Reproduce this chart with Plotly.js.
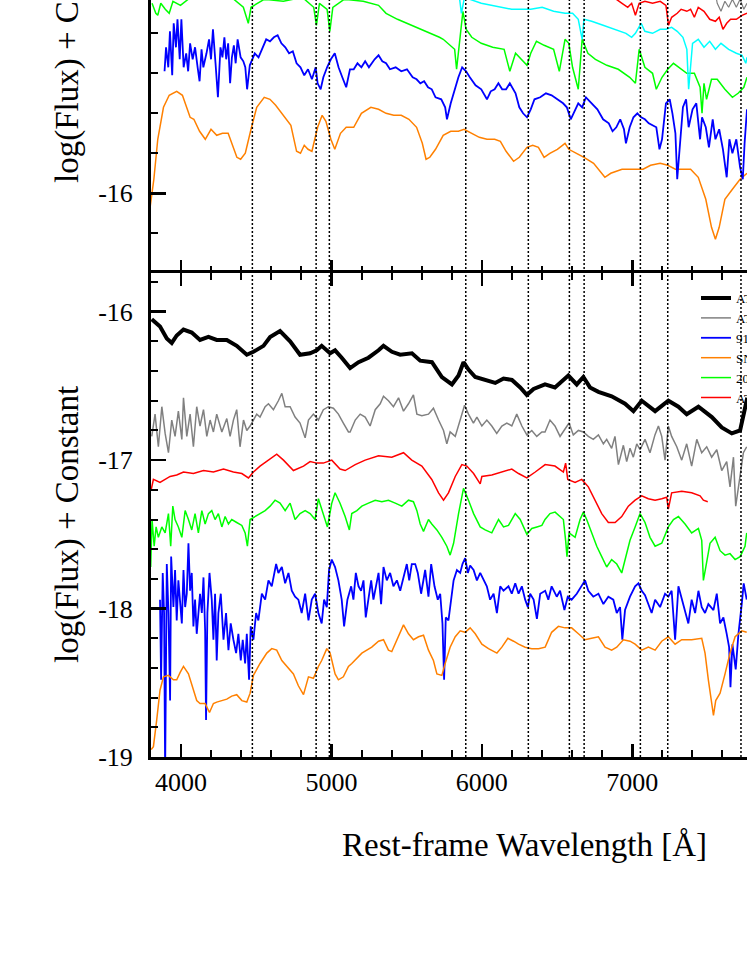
<!DOCTYPE html>
<html>
<head>
<meta charset="utf-8">
<script src="https://cdn.plot.ly/plotly-3.0.1.min.js"></script>
<style>html,body{margin:0;padding:0;background:#fff;}#chart{width:747px;height:967px;}</style>
</head>
<body>
<div id="chart"></div>
<script>
// ---------- Bottom panel spectra (log flux + constant vs rest-frame wavelength) ----------
const blackWl = [3805,3860,3905,3938,3971,4016,4071,4126,4182,4237,4304,4370,4437,4481,4548,4592,4658,4725,4791,4858,4902,4935,4991,5024,5068,5124,5180,5246,5313,5346,5402,5457,5535,5590,5668,5734,5801,5845,5878,5911,5956,6022,6089,6144,6200,6255,6299,6344,6420,6486,6542,6575,6631,6675,6719,6775,6863,6952,7008,7063,7152,7240,7307,7362,7440,7529,7595,7662,7717,7750,7765];
const blackFlux = [-16.05,-16.10,-16.18,-16.21,-16.16,-16.12,-16.14,-16.19,-16.17,-16.19,-16.19,-16.23,-16.29,-16.27,-16.23,-16.17,-16.13,-16.20,-16.29,-16.28,-16.26,-16.23,-16.28,-16.26,-16.31,-16.38,-16.34,-16.31,-16.26,-16.23,-16.27,-16.29,-16.28,-16.33,-16.34,-16.44,-16.49,-16.43,-16.34,-16.39,-16.44,-16.46,-16.48,-16.45,-16.46,-16.51,-16.56,-16.52,-16.49,-16.51,-16.46,-16.43,-16.49,-16.44,-16.51,-16.54,-16.57,-16.62,-16.67,-16.60,-16.67,-16.60,-16.64,-16.69,-16.64,-16.71,-16.78,-16.82,-16.80,-16.64,-16.58];

const grayWl = [3805,3827,3849,3872,3894,3916,3938,3960,3982,4005,4016,4038,4060,4082,4104,4126,4149,4171,4193,4215,4237,4271,4304,4326,4348,4370,4392,4415,4437,4459,4481,4503,4525,4559,4581,4614,4647,4670,4692,4725,4758,4791,4825,4847,4880,4913,4946,4980,5013,5046,5079,5113,
  5124,5158,5191,5224,5257,5291,5324,5346,5379,5412,5446,5479,5512,5545,5568,5601,5645,5678,5712,5745,5767,5789,5823,5856,5885,5911,5944,5967,6000,6033,6066,6099,6133,6166,6199,6232,6266,6299,6332,6365,6399,
  6420,6453,6486,6520,6553,6580,6608,6642,6675,6708,6741,6775,6808,6830,6863,6885,6908,6941,6963,6985,7007,7030,7052,7085,7118,7151,7174,7196,7218,7240,7262,7296,7329,7362,7395,7429,7462,7495,7528,7562,7595,7628,7650,7673,7688,7717,7739,7761];
const grayFlux = [-16.84,-16.69,-16.91,-16.64,-16.82,-16.95,-16.73,-16.84,-16.67,-16.86,-16.58,-16.84,-16.69,-16.91,-16.64,-16.77,-16.66,-16.84,-16.73,-16.81,-16.69,-16.81,-16.72,-16.84,-16.73,-16.66,-16.91,-16.73,-16.80,-16.77,-16.73,-16.69,-16.71,-16.64,-16.62,-16.66,-16.60,-16.55,-16.64,-16.64,-16.71,-16.75,-16.85,-16.73,-16.69,-16.73,-16.66,-16.64,-16.65,-16.69,-16.75,-16.81,
  -16.81,-16.73,-16.69,-16.71,-16.77,-16.66,-16.62,-16.57,-16.60,-16.64,-16.58,-16.67,-16.62,-16.56,-16.69,-16.70,-16.69,-16.65,-16.73,-16.80,-16.89,-16.81,-16.84,-16.73,-16.63,-16.69,-16.75,-16.71,-16.77,-16.73,-16.77,-16.82,-16.77,-16.75,-16.77,-16.69,-16.77,-16.83,-16.80,-16.84,-16.81,
  -16.81,-16.73,-16.77,-16.84,-16.79,-16.75,-16.83,-16.80,-16.81,-16.84,-16.86,-16.83,-16.89,-16.86,-16.92,-16.84,-17.03,-16.90,-17.01,-16.92,-16.98,-16.89,-16.93,-16.86,-16.95,-16.83,-16.77,-16.84,-17.00,-16.77,-16.84,-16.91,-17.00,-16.89,-17.04,-16.86,-16.95,-16.91,-16.98,-16.93,-17.07,-17.01,-17.18,-16.98,-17.31,-17.09,-16.95,-16.91];

const redWl = [3801,3816,3860,3927,3971,4016,4082,4149,4215,4282,4348,4404,4448,4481,4525,4570,4636,4681,4747,4814,4858,4902,4946,5002,5057,5091,
  5158,5224,5313,5401,5479,5534,5601,5667,5712,5745,5778,5823,5867,5900,5945,5989,6000,6066,6133,6199,6244,6299,6355,6421,
  6486,6542,6557,6571,6620,6664,6708,6753,6797,6841,6886,6930,6974,7019,7063,7107,7152,7196,7229,7240,7262,7329,7395,7451,7473,7502];
const redFlux = [-17.20,-17.13,-17.15,-17.11,-17.10,-17.08,-17.09,-17.07,-17.08,-17.06,-17.08,-17.09,-17.12,-17.08,-17.04,-17.01,-16.96,-17.00,-17.07,-17.04,-17.01,-17.02,-17.02,-17.00,-17.06,-17.07,
  -17.03,-17.00,-16.97,-16.98,-16.95,-17.00,-17.04,-17.13,-17.22,-17.27,-17.22,-17.11,-17.03,-17.04,-17.09,-17.16,-17.11,-17.10,-17.08,-17.06,-17.09,-17.12,-17.08,-17.03,
  -17.04,-17.08,-17.02,-17.13,-17.15,-17.13,-17.18,-17.27,-17.36,-17.42,-17.42,-17.38,-17.31,-17.27,-17.24,-17.26,-17.27,-17.26,-17.25,-17.33,-17.22,-17.21,-17.22,-17.24,-17.27,-17.28];

const greenWl = [3798,3807,3821,3834,3849,3872,3894,3916,3931,3945,3960,3982,4005,4027,4049,4071,4093,4115,4138,4160,4182,4204,4226,4248,4271,4293,4315,4337,4370,4404,4426,4441,4459,4492,4525,4559,4592,4625,4658,4692,4725,4758,4791,4825,4858,4891,4913,4946,4973,5002,5024,5057,5091,5119,
  5135,5169,5202,5246,5291,5335,5379,5424,5468,5512,5545,5568,5590,5612,5645,5667,5701,5734,5767,5789,5812,5845,5878,5911,5945,5989,6022,6066,6111,6144,6177,6222,6255,6299,6332,6366,6399,
  6420,6453,6487,6520,6542,6557,6566,6580,6620,6653,6675,6697,6730,6764,6797,6830,6863,6897,6930,6952,6985,7019,7052,7085,7118,7152,7196,7240,7274,7307,7351,7395,7440,7462,7473,7489,7517,7551,7584,7617,7650,7684,7717,7750,7761];
const greenFlux = [-17.72,-17.40,-17.58,-17.45,-17.52,-17.45,-17.49,-17.36,-17.58,-17.31,-17.40,-17.45,-17.52,-17.34,-17.40,-17.47,-17.36,-17.49,-17.34,-17.43,-17.36,-17.34,-17.40,-17.36,-17.45,-17.38,-17.43,-17.40,-17.42,-17.44,-17.49,-17.58,-17.40,-17.38,-17.36,-17.34,-17.31,-17.27,-17.29,-17.34,-17.29,-17.40,-17.36,-17.34,-17.36,-17.40,-17.26,-17.36,-17.45,-17.29,-17.22,-17.29,-17.38,-17.47,
  -17.36,-17.34,-17.31,-17.29,-17.27,-17.28,-17.27,-17.29,-17.31,-17.27,-17.28,-17.34,-17.43,-17.48,-17.40,-17.43,-17.47,-17.52,-17.58,-17.64,-17.56,-17.36,-17.19,-17.27,-17.36,-17.45,-17.47,-17.49,-17.40,-17.45,-17.44,-17.36,-17.40,-17.50,-17.46,-17.45,-17.44,
  -17.40,-17.36,-17.35,-17.38,-17.40,-17.54,-17.65,-17.49,-17.52,-17.40,-17.35,-17.40,-17.49,-17.58,-17.65,-17.72,-17.67,-17.70,-17.76,-17.67,-17.54,-17.45,-17.36,-17.42,-17.52,-17.58,-17.56,-17.45,-17.40,-17.38,-17.43,-17.49,-17.46,-17.54,-17.81,-17.72,-17.56,-17.52,-17.61,-17.64,-17.63,-17.67,-17.65,-17.58,-17.49];

const blueWl = [3860,3867,3878,3887,3894,3905,3916,3927,3934,3949,3960,3971,3982,3994,4005,4016,4027,4038,4049,4060,4071,4082,4093,4104,4126,4138,4149,4160,4166,4175,4189,4204,4215,4226,4237,4248,4264,4282,4299,4315,4330,4348,4366,4381,4397,4410,4426,4437,4452,4463,4481,4499,4514,4537,4559,4581,4603,4632,4647,4670,4692,4714,4736,4758,4780,4802,4825,4847,4869,4891,4913,4935,4951,4969,4984,5002,5024,5046,5068,5084,5106,
  5131,5146,5162,5180,5197,5213,5228,5246,5264,5279,5295,5313,5330,5346,5368,5390,5412,5435,5457,5479,5501,5517,5534,5557,5574,5596,5623,5645,5663,5685,5707,5723,5738,5749,5760,5778,5796,5812,5834,5856,5871,5889,5907,5922,5945,5967,5989,6011,6033,6055,6078,6100,6122,6144,6177,6199,6222,6244,6266,6288,6306,6321,6344,6366,6388,6421,
  6442,6464,6498,6520,6549,6571,6597,6631,6664,6686,6708,6741,6775,6808,6841,6874,6897,6919,6934,6952,6985,7019,7041,7063,7085,7107,7129,7152,7185,7218,7240,7262,7285,7307,7329,7351,7373,7395,7418,7440,7462,7484,7506,7540,7562,7584,7606,7628,7644,7653,7666,7688,7706,7728,7741,7761];
const blueFlux = [-17.94,-18.48,-17.76,-18.03,-19.10,-17.70,-18.03,-18.62,-17.65,-17.99,-17.74,-18.08,-17.81,-17.94,-18.10,-17.74,-17.99,-17.90,-17.56,-17.88,-17.76,-18.12,-17.94,-18.17,-17.90,-18.03,-17.79,-18.15,-18.75,-18.03,-17.76,-17.94,-18.21,-17.90,-18.35,-18.03,-17.90,-18.21,-18.03,-18.28,-18.10,-18.21,-18.30,-18.17,-18.35,-18.21,-18.37,-18.17,-18.48,-18.12,-18.21,-18.03,-18.08,-17.90,-17.94,-17.81,-17.85,-17.70,-17.76,-17.72,-17.83,-17.76,-17.88,-17.92,-17.94,-18.03,-17.90,-18.08,-17.94,-17.90,-18.03,-18.10,-17.94,-17.99,-17.74,-17.67,-17.72,-17.81,-17.94,-18.12,-17.94,
  -17.85,-17.94,-17.76,-17.85,-17.88,-17.81,-18.06,-17.94,-17.81,-17.94,-17.85,-17.76,-17.97,-17.72,-17.81,-17.76,-17.85,-17.81,-17.88,-17.79,-17.70,-17.81,-17.70,-17.70,-17.76,-17.90,-17.74,-17.92,-17.70,-17.85,-17.94,-17.90,-18.10,-18.48,-18.06,-18.08,-17.94,-17.81,-17.74,-17.76,-17.70,-17.66,-17.76,-17.71,-17.74,-17.81,-17.76,-17.81,-17.85,-17.94,-17.90,-18.03,-17.85,-17.88,-17.85,-17.90,-17.83,-17.90,-17.85,-17.94,-17.99,-17.90,-17.94,-18.07,-17.90,-17.88,
  -17.94,-17.85,-17.92,-17.88,-18.01,-17.92,-17.94,-17.90,-17.85,-17.81,-17.88,-17.92,-17.90,-17.97,-17.92,-17.94,-18.03,-17.99,-18.21,-18.01,-17.92,-17.85,-17.83,-17.88,-17.91,-17.97,-18.03,-17.94,-17.99,-17.90,-17.92,-17.88,-18.21,-17.85,-17.94,-18.03,-18.10,-17.94,-18.03,-17.88,-17.99,-18.03,-17.97,-18.01,-17.90,-18.10,-18.06,-18.17,-18.26,-18.53,-18.24,-18.41,-18.17,-17.97,-17.83,-17.94];

const orangeWl = [3801,3816,3838,3860,3883,3916,3949,3971,3994,4016,4049,4082,4104,4126,4160,4189,4215,4237,4271,4304,4337,4370,4404,4437,4459,4481,4525,4570,4603,4636,4670,4703,4747,4780,4814,4847,4880,4913,4935,4969,4991,5024,5046,5079,5113,
  5135,5202,5268,5313,5346,5379,5401,5435,5479,5512,5545,5579,5612,5645,5678,5701,5734,5756,5789,5823,5856,5889,5922,5956,6000,6044,6100,6133,6173,6211,6244,6288,6332,6377,6421,
  6464,6509,6553,6597,6642,6686,6730,6775,6819,6863,6897,6941,6985,7019,7063,7107,7152,7196,7240,7285,7329,7395,7462,7484,7506,7528,7540,7555,7584,7617,7650,7684,7728,7761];
const orangeFlux = [-18.95,-18.93,-18.75,-18.55,-18.46,-18.45,-18.48,-18.48,-18.43,-18.39,-18.44,-18.55,-18.62,-18.64,-18.64,-18.70,-18.64,-18.63,-18.62,-18.61,-18.59,-18.58,-18.62,-18.63,-18.57,-18.45,-18.37,-18.30,-18.27,-18.28,-18.35,-18.39,-18.44,-18.52,-18.58,-18.46,-18.47,-18.39,-18.35,-18.27,-18.30,-18.44,-18.48,-18.46,-18.39,
  -18.37,-18.30,-18.26,-18.22,-18.21,-18.28,-18.29,-18.21,-18.11,-18.17,-18.21,-18.19,-18.18,-18.28,-18.35,-18.44,-18.45,-18.37,-18.26,-18.19,-18.15,-18.16,-18.13,-18.17,-18.24,-18.27,-18.30,-18.26,-18.20,-18.22,-18.24,-18.26,-18.27,-18.27,-18.26,
  -18.16,-18.12,-18.13,-18.13,-18.17,-18.21,-18.20,-18.19,-18.26,-18.28,-18.26,-18.21,-18.22,-18.24,-18.28,-18.26,-18.28,-18.22,-18.19,-18.24,-18.21,-18.21,-18.20,-18.30,-18.48,-18.64,-18.72,-18.62,-18.57,-18.44,-18.30,-18.19,-18.15,-18.16];

// ---------- Top panel spectra (visible part) ----------
const topOrangeWl = [3794,3819,3845,3883,3921,3971,4009,4034,4060,4085,4123,4161,4199,4237,4275,4313,4338,4371,4396,4427,4465,4503,4553,4591,4629,4680,4730,4768,4794,4819,4844,4870,4908,4938,4963,4996,5022,5060,5098,5148,5199,5262,5313,5363,5414,5464,5515,5566,5604,5629,5654,5692,5743,5793,5844,5882,5933,5983,6034,6085,6123,6161,6211,6249,6300,6338,6376,6414,6452,6502,6553,6578,6629,6679,6743,6818,6857,6932,7008,7072,7122,7186,7236,7287,7337,7388,7439,7489,7527,7553,7578,7616,7666,7717,7763];
const topOrangeFlux = [-16.07,-15.93,-15.73,-15.57,-15.51,-15.49,-15.51,-15.57,-15.62,-15.63,-15.69,-15.73,-15.68,-15.71,-15.70,-15.70,-15.75,-15.82,-15.83,-15.80,-15.68,-15.57,-15.52,-15.53,-15.56,-15.61,-15.66,-15.79,-15.80,-15.76,-15.78,-15.79,-15.67,-15.61,-15.64,-15.73,-15.78,-15.70,-15.67,-15.67,-15.60,-15.57,-15.58,-15.60,-15.61,-15.61,-15.63,-15.67,-15.75,-15.83,-15.82,-15.78,-15.71,-15.69,-15.69,-15.68,-15.70,-15.72,-15.73,-15.73,-15.74,-15.79,-15.84,-15.82,-15.77,-15.76,-15.77,-15.82,-15.80,-15.78,-15.75,-15.78,-15.80,-15.82,-15.85,-15.92,-15.90,-15.88,-15.88,-15.88,-15.86,-15.85,-15.86,-15.88,-15.88,-15.88,-15.92,-16.03,-16.17,-16.23,-16.17,-16.03,-15.98,-15.93,-15.90];

const topBlueWl = [3890,3900,3915,3926,3941,3951,3966,3976,3991,4002,4017,4034,4047,4060,4077,4093,4110,4123,4136,4148,4169,4186,4199,4212,4229,4245,4262,4275,4288,4300,4313,4326,4338,4351,4363,4376,4396,4414,4427,4439,4457,4472,4490,4515,4541,4566,4591,4617,4642,4667,4693,4718,4743,4768,4794,4819,4844,4870,4895,4908,4928,4946,4971,4996,5022,5047,5072,5098,5123,5148,5173,5199,5224,5249,5287,5313,5338,5363,5389,5427,5464,5502,5540,5566,5591,5616,5642,5667,5692,5730,5756,5768,5793,5819,5844,5869,5895,5920,5958,5996,6034,6059,6085,6110,6135,6161,6186,6224,6249,6274,6300,6325,6350,6388,6426,6464,6502,6540,6565,6591,6616,6641,6667,6692,6730,6768,6806,6844,6869,6894,6920,6945,6958,6983,7008,7034,7059,7084,7110,7135,7160,7181,7198,7224,7249,7267,7287,7299,7317,7337,7358,7375,7401,7426,7451,7464,7489,7510,7535,7553,7578,7603,7628,7646,7666,7692,7717,7735,7747,7763];
const topBlueFlux = [-15.39,-15.27,-15.37,-15.19,-15.41,-15.15,-15.27,-15.13,-15.33,-15.13,-15.37,-15.30,-15.39,-15.25,-15.33,-15.27,-15.37,-15.44,-15.28,-15.37,-15.30,-15.23,-15.33,-15.18,-15.35,-15.52,-15.27,-15.32,-15.22,-15.33,-15.25,-15.45,-15.32,-15.26,-15.35,-15.23,-15.32,-15.34,-15.37,-15.48,-15.36,-15.33,-15.30,-15.32,-15.27,-15.23,-15.24,-15.22,-15.21,-15.25,-15.27,-15.30,-15.29,-15.35,-15.37,-15.41,-15.38,-15.43,-15.37,-15.45,-15.48,-15.42,-15.37,-15.33,-15.30,-15.37,-15.42,-15.47,-15.38,-15.38,-15.35,-15.37,-15.34,-15.37,-15.33,-15.31,-15.34,-15.35,-15.38,-15.37,-15.39,-15.38,-15.42,-15.43,-15.45,-15.44,-15.47,-15.48,-15.52,-15.53,-15.57,-15.63,-15.55,-15.48,-15.42,-15.37,-15.39,-15.42,-15.46,-15.48,-15.53,-15.49,-15.48,-15.45,-15.48,-15.48,-15.45,-15.50,-15.57,-15.60,-15.62,-15.58,-15.53,-15.52,-15.50,-15.51,-15.53,-15.55,-15.57,-15.63,-15.59,-15.55,-15.57,-15.52,-15.55,-15.58,-15.63,-15.65,-15.69,-15.67,-15.63,-15.68,-15.75,-15.67,-15.62,-15.60,-15.62,-15.63,-15.65,-15.66,-15.67,-15.78,-15.73,-15.55,-15.53,-15.60,-15.70,-15.93,-15.75,-15.57,-15.53,-15.67,-15.58,-15.55,-15.73,-15.62,-15.67,-15.77,-15.63,-15.73,-15.68,-15.78,-15.92,-15.73,-15.80,-15.73,-15.87,-15.93,-15.75,-15.58];

const topGreenWl = [3807,3819,3832,3845,3865,3895,3921,3946,3996,4047,4123,4250,4351,4414,4447,4465,4553,4680,4806,4882,4900,4920,4971,4989,5009,5085,5211,5313,5363,5439,5566,5718,5743,5819,5832,5857,5874,5895,5933,5996,6072,6148,6186,6224,6300,6325,6363,6414,6477,6515,6553,6578,6603,6641,6667,6705,6755,6831,6907,6983,7021,7046,7084,7135,7160,7198,7236,7274,7312,7363,7413,7451,7464,7477,7494,7527,7565,7616,7666,7704,7742,7763];
const topGreenFlux = [-15.05,-15.07,-15.10,-15.11,-15.05,-15.08,-15.10,-15.04,-15.06,-15.03,-15.02,-15.02,-15.03,-15.07,-15.15,-15.07,-15.03,-15.04,-15.02,-15.07,-15.16,-15.05,-15.08,-15.19,-15.07,-15.03,-15.04,-15.06,-15.10,-15.13,-15.17,-15.22,-15.23,-15.28,-15.38,-15.20,-15.09,-15.18,-15.22,-15.25,-15.27,-15.28,-15.39,-15.30,-15.36,-15.30,-15.24,-15.26,-15.28,-15.39,-15.23,-15.25,-15.37,-15.48,-15.23,-15.30,-15.33,-15.36,-15.38,-15.42,-15.45,-15.28,-15.37,-15.40,-15.48,-15.42,-15.38,-15.35,-15.37,-15.40,-15.40,-15.47,-15.60,-15.45,-15.53,-15.43,-15.43,-15.48,-15.52,-15.50,-15.47,-15.42];

const topCyanWl = [5844,5864,5882,5920,5996,6072,6198,6300,6325,6401,6477,6553,6603,6641,6667,6679,6730,6806,6882,6958,6996,7021,7059,7084,7135,7186,7224,7262,7299,7337,7363,7375,7401,7439,7477,7515,7553,7590,7641,7692,7730,7755,7763];
const topCyanFlux = [-14.98,-15.10,-15.03,-15.03,-15.05,-15.06,-15.08,-15.08,-15.08,-15.07,-15.09,-15.10,-15.10,-15.13,-15.23,-15.13,-15.14,-15.16,-15.18,-15.20,-15.22,-15.20,-15.15,-15.19,-15.20,-15.18,-15.18,-15.17,-15.19,-15.22,-15.28,-15.48,-15.25,-15.23,-15.27,-15.24,-15.28,-15.25,-15.28,-15.30,-15.31,-15.35,-15.32];

const topRedWl = [6869,6894,6932,6970,6996,7021,7046,7084,7135,7186,7224,7241,7262,7299,7325,7363,7388,7413,7439,7477,7515,7553,7578,7603,7628,7654,7692,7730,7763];
const topRedFlux = [-15.00,-15.03,-15.05,-15.07,-15.05,-15.11,-15.05,-15.04,-15.05,-15.04,-15.06,-15.16,-15.12,-15.10,-15.08,-15.09,-15.08,-15.12,-15.07,-15.09,-15.13,-15.14,-15.12,-15.18,-15.15,-15.13,-15.13,-15.11,-15.10];

const topGrayWl = [7553,7565,7590,7616,7641,7666,7692,7717,7742,7763];
const topGrayFlux = [-15.00,-15.05,-15.09,-15.04,-15.07,-15.03,-15.07,-15.03,-15.08,-15.05];

// ---------- Marked lines and labels ----------
const lineWavelengths = [4474, 4898, 4986, 5893, 6309, 6582, 6680, 7054, 7236, 7723];
const legendNames = ['AT2018cow', 'AT2020xnd', '91D', 'SN2008D', '2006jc', 'AT2018lqh'];
const xTickVals = [4000, 5000, 6000, 7000];
const xTickText = ['4000', '5000', '6000', '7000'];
const yBottomTickVals = [-19, -18, -17, -16];
const yBottomTickText = ['-19', '-18', '-17', '-16'];
const yTopTickVals = [-16];
const yTopTickText = ['-16'];

const FONT = '"Liberation Serif", "Times New Roman", Times, serif';

function tr(x, y, color, width, name, xa, ya, showlegend) {
  return {x: x, y: y, type: 'scatter', mode: 'lines', name: name,
    line: {color: color, width: width}, xaxis: xa, yaxis: ya,
    showlegend: showlegend, hoverinfo: 'skip'};
}

const data = [
  tr(blackWl, blackFlux, '#000000', 4, legendNames[0], 'x', 'y', true),
  tr(grayWl, grayFlux, '#808080', 1.5, legendNames[1], 'x', 'y', true),
  tr(blueWl, blueFlux, '#0000ff', 1.8, legendNames[2], 'x', 'y', true),
  tr(orangeWl, orangeFlux, '#ff8000', 1.5, legendNames[3], 'x', 'y', true),
  tr(greenWl, greenFlux, '#00ff00', 1.5, legendNames[4], 'x', 'y', true),
  tr(redWl, redFlux, '#ff0000', 1.5, legendNames[5], 'x', 'y', true),
  tr(topOrangeWl, topOrangeFlux, '#ff8000', 1.5, 'top orange', 'x2', 'y2', false),
  tr(topBlueWl, topBlueFlux, '#0000ff', 1.8, 'top blue', 'x2', 'y2', false),
  tr(topGreenWl, topGreenFlux, '#00ff00', 1.5, 'top green', 'x2', 'y2', false),
  tr(topCyanWl, topCyanFlux, '#00ffff', 1.5, 'top cyan', 'x2', 'y2', false),
  tr(topRedWl, topRedFlux, '#ff0000', 1.5, 'top red', 'x2', 'y2', false),
  tr(topGrayWl, topGrayFlux, '#808080', 1.2, 'top gray', 'x2', 'y2', false)
];

const shapes = lineWavelengths.map(function (w) {
  return {type: 'line', xref: 'x', yref: 'paper', x0: w, x1: w, y0: 0, y1: 1,
    line: {color: '#000', width: 1.5, dash: '2px,2px'}};
});

const xCommon = {
  range: [3800, 7763], linewidth: 3, linecolor: '#000',
  ticks: 'inside', ticklen: 13, tickwidth: 2.5, tickcolor: '#000',
  tickmode: 'array', tickvals: xTickVals, ticktext: xTickText,
  minor: {ticks: 'inside', dtick: 200, tick0: 0, ticklen: 7, tickwidth: 2, tickcolor: '#000', showgrid: false},
  showgrid: false, zeroline: false, fixedrange: true,
  tickfont: {family: FONT, size: 26, color: '#000'}
};
const yCommon = {
  showline: true, linewidth: 3, linecolor: '#000',
  ticks: 'inside', ticklen: 15, tickwidth: 2.5, tickcolor: '#000',
  tickmode: 'array',
  minor: {ticks: 'inside', dtick: 0.2, tick0: 0, ticklen: 7, tickwidth: 2, tickcolor: '#000', showgrid: false},
  showgrid: false, zeroline: false, fixedrange: true, ticklabelstandoff: 10,
  tickfont: {family: FONT, size: 26, color: '#000'}
};

const layout = {
  width: 747, height: 967,
  margin: {l: 151, r: 0, t: 0, b: 210, autoexpand: false},
  paper_bgcolor: '#fff', plot_bgcolor: '#fff',
  showlegend: true,
  legend: {x: 0.9144, y: 0.6261, xanchor: 'left', yanchor: 'top',
    font: {family: FONT, size: 13, color: '#000'}, bgcolor: 'rgba(0,0,0,0)', borderwidth: 0},
  xaxis: Object.assign({}, xCommon, {domain: [0, 1], anchor: 'y', showline: true, mirror: 'ticks', ticklabelstandoff: 0}),
  xaxis2: Object.assign({}, xCommon, {domain: [0, 1], anchor: 'y2', showline: false, showticklabels: false}),
  yaxis: Object.assign({}, yCommon, {domain: [0, 0.6394], anchor: 'x', range: [-19, -15.739],
    tickvals: yBottomTickVals, ticktext: yBottomTickText}),
  yaxis2: Object.assign({}, yCommon, {domain: [0.6394, 1], anchor: 'x2', range: [-16.3985, -15.0335],
    tickvals: yTopTickVals, ticktext: yTopTickText}),
  shapes: shapes,
  annotations: [
    {text: 'Rest-frame Wavelength [Å]', xref: 'paper', yref: 'paper', x: 0.6275, y: -0.1162,
      xanchor: 'center', yanchor: 'middle', showarrow: false, font: {family: FONT, size: 33, color: '#000'}},
    {text: 'log(Flux) + Constant', xref: 'paper', yref: 'paper', x: -0.1393, y: 0.3078, textangle: -90,
      xanchor: 'center', yanchor: 'middle', showarrow: false, font: {family: FONT, size: 33, color: '#000'}},
    {text: 'log(Flux) + Constant', xref: 'paper', yref: 'paper', x: -0.1393, y: 0.9419, textangle: -90,
      xanchor: 'center', yanchor: 'middle', showarrow: false, font: {family: FONT, size: 33, color: '#000'}}
  ]
};

Plotly.newPlot('chart', data, layout, {displayModeBar: false, staticPlot: true});
</script>
</body>
</html>
